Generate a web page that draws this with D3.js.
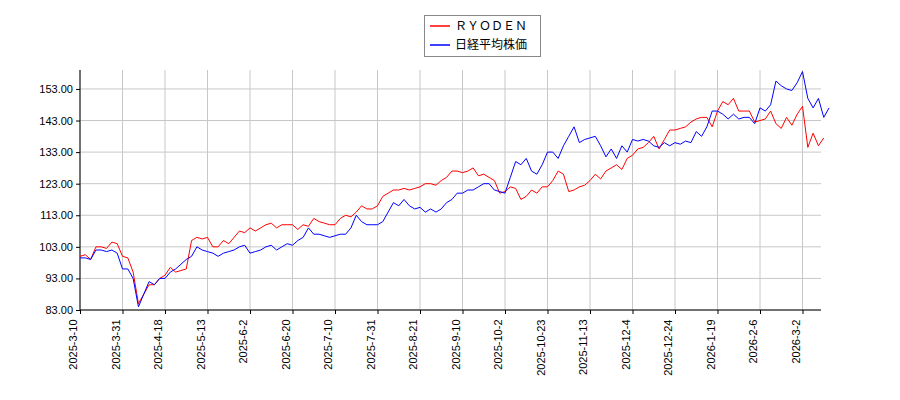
<!DOCTYPE html>
<html><head><meta charset="utf-8">
<script src="https://cdn.jsdelivr.net/npm/d3@7/dist/d3.min.js"></script>
<style>body{margin:0;background:#fff}svg{font-family:"DejaVu Sans",sans-serif}</style>
</head><body><svg id="c" width="900" height="400"></svg>
<script>
const tickLabels=["2025-3-10","2025-3-31","2025-4-18","2025-5-13","2025-6-2","2025-6-20","2025-7-10","2025-7-31","2025-8-21","2025-9-10","2025-10-2","2025-10-23","2025-11-13","2025-12-4","2025-12-24","2026-1-19","2026-2-6","2026-3-2"];
const yTicks=[83,93,103,113,123,133,143,153];
const seriesNames=["ＲＹＯＤＥＮ","日経平均株価"];
const ryoden=[100,100.5,99,103,103,102.5,104.5,104,
100,99.5,95,85,88,91,91,93,
94,96.5,95,95.5,96,105,106,105.5,
106,103,103,105,104,106,108,107.5,
109,108,109,110,110.5,109,110,110,
110,108.5,110,109.5,112,111,110.5,110,
110,112,113,112.5,114,116,115,115,
116,119,120,121,121,121.5,121,121.5,
122,123,123,122.5,124,125,127,127,
126.5,127,128,125.5,126,125,124,120,
120.5,122,121.5,118,119,121,120,122,
122,124,127,126,120.5,121,122,122.5,
124,126,124.5,127,128,129,127.5,131,
132,134,134.5,136,138,134,137,140,
140,140.5,141,142.5,143.5,144,144,141,
146,149,148,150,146,146,146,142.5,
143,143.5,146,142,140.5,144,141.5,145,
147.5,134.5,139,135,137.5];
const nikkei=[99.5,99.5,99,102,102,101.5,102,101,
96,96,93,84,88,92,91,93,
93,95,96,97.5,99,100,103,102,
101.5,101,100,101,101.5,102,103,103.5,
101,101.5,102,103,103.5,102,103,104,
103.5,105,106,109,107,107,106.5,106,
106.5,107,107,109,113,111,110,110,
110,111,114,117,116,118,116,115,
115.5,114,115,114,115,117,118,120,
120,121,121,122,123,123,121,120.5,
120,125,130,129,131,127,126,129,
133,133,131,135,138,141,136,137,
137.5,138,135,131.5,134,131,135,133,
137,136.5,137,136.5,135,134.5,136,135,
136,135.5,136.5,136,139.5,138,141,146,
146,145,143.5,145,143.5,144,144,142,
147,146,148,155.5,154,153,152.5,155,
158.5,150,147,150,144,147];
const perTick=8;
const svg=d3.select("#c");
const L=80,R=821,T=70,B=310;
const n=Math.max(ryoden.length,nikkei.length);
const x=d3.scaleLinear().domain([0,(R-L)/(42.5/perTick)]).range([L,R]);
const y=d3.scaleLinear().domain([83,159]).range([B,T]);
const tickIdx=tickLabels.map((d,i)=>i*perTick);
// grid
svg.append("g").selectAll("line").data(yTicks).join("line")
 .attr("x1",L).attr("x2",R).attr("y1",d=>y(d)).attr("y2",d=>y(d)).attr("stroke","#c8c8c8");
svg.append("g").selectAll("line").data(tickIdx).join("line")
 .attr("x1",d=>x(d)).attr("x2",d=>x(d)).attr("y1",T).attr("y2",B).attr("stroke","#c8c8c8");
// axes
const ya=svg.append("g").attr("transform",`translate(${L},0)`).call(d3.axisLeft(y).tickValues(yTicks).tickFormat(d3.format(".2f")).tickSize(4));
ya.select(".domain").attr("d",`M0,${T}V${B}`);
const xa=svg.append("g").attr("transform",`translate(0,${B})`).call(d3.axisBottom(x).tickValues(tickIdx).tickFormat((d,i)=>tickLabels[i]).tickSize(4));
xa.select(".domain").attr("d",`M${L},0H${R}`);
svg.selectAll(".tick text").attr("font-size",11).attr("fill","#000");
xa.selectAll(".tick text").attr("transform","rotate(-90)").attr("text-anchor","end").attr("dx","-0.5em").attr("dy","-0.3em").attr("x",-4).attr("y",0);
// lines
const line=d3.line().x((d,i)=>x(i)).y(d=>y(d));
svg.append("path").datum(ryoden).attr("d",line).attr("fill","none").attr("stroke","#ff0000").attr("stroke-width",1);
svg.append("path").datum(nikkei).attr("d",line).attr("fill","none").attr("stroke","#0000ff").attr("stroke-width",1);
// legend
const lg=svg.append("g");
lg.append("rect").attr("x",424.5).attr("y",15.5).attr("width",116).attr("height",41).attr("fill","#fff").attr("stroke","#888");
[["#ff0000",seriesNames[0]],["#0000ff",seriesNames[1]]].forEach((s,i)=>{
 lg.append("line").attr("x1",430).attr("x2",450).attr("y1",26+i*19).attr("y2",26+i*19).attr("stroke",s[0]).attr("stroke-width",1.5);
 lg.append("text").attr("x",455).attr("y",30+i*19).attr("font-size",12).attr("font-family","'Noto Sans CJK JP',sans-serif").text(s[1]);
});
</script></body></html>
